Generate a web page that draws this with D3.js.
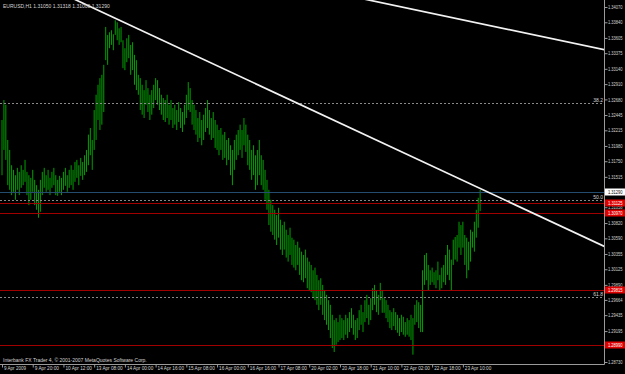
<!DOCTYPE html>
<html>
<head>
<meta charset="utf-8">
<script src="https://cdn.jsdelivr.net/npm/d3@7"></script>
<style>
body{margin:0;background:#000;}
svg{display:block;}
text{font-family:"Liberation Sans",Arial,sans-serif;fill:#d4d4d4;}
</style>
</head>
<body>
<svg width="625" height="374"></svg>
<script>

// EURUSD H1 bars, high and low of each hour
var highs = [1.3237,1.3267,1.3260,1.3207,1.3192,1.3169,1.3162,1.3154,1.3165,1.3159,
  1.3169,1.3162,1.3177,1.3159,1.3154,1.3150,1.3162,1.3147,1.3139,1.3132,
  1.3147,1.3159,1.3165,1.3154,1.3162,1.3150,1.3159,1.3165,1.3154,1.3147,
  1.3153,1.3150,1.3159,1.3165,1.3154,1.3162,1.3169,1.3162,1.3174,1.3177,
  1.3169,1.3180,1.3174,1.3184,1.3192,1.3215,1.3225,1.3207,1.3252,1.3275,
  1.3290,1.3300,1.3305,1.3320,1.3377,1.3365,1.3369,1.3372,1.3366,1.3387,
  1.3384,1.3375,1.3377,1.3357,1.3345,1.3360,1.3365,1.3350,1.3354,1.3335,
  1.3327,1.3305,1.3300,1.3290,1.3282,1.3297,1.3285,1.3275,1.3282,1.3290,
  1.3300,1.3297,1.3285,1.3275,1.3270,1.3267,1.3275,1.3260,1.3267,1.3255,
  1.3260,1.3252,1.3264,1.3255,1.3249,1.3260,1.3275,1.3294,1.3285,1.3267,
  1.3260,1.3252,1.3240,1.3249,1.3237,1.3245,1.3255,1.3267,1.3252,1.3240,
  1.3249,1.3237,1.3230,1.3222,1.3225,1.3215,1.3219,1.3207,1.3210,1.3199,
  1.3192,1.3207,1.3215,1.3222,1.3230,1.3222,1.3240,1.3230,1.3215,1.3207,
  1.3192,1.3199,1.3184,1.3192,1.3207,1.3184,1.3177,1.3162,1.3147,1.3132,
  1.3117,1.3109,1.3102,1.3094,1.3105,1.3087,1.3079,1.3084,1.3072,1.3064,
  1.3075,1.3060,1.3057,1.3049,1.3054,1.3045,1.3039,1.3034,1.3042,1.3030,
  1.3024,1.3019,1.3011,1.3015,1.3004,1.2996,1.2999,1.2989,1.2981,1.2974,
  1.2966,1.2959,1.2944,1.2936,1.2939,1.2933,1.2944,1.2939,1.2936,1.2944,
  1.2939,1.2948,1.2954,1.2944,1.2936,1.2939,1.2951,1.2959,1.2948,1.2966,
  1.2974,1.2959,1.2969,1.2984,1.2989,1.2981,1.2974,1.2992,1.2981,1.2969,
  1.2966,1.2959,1.2951,1.2948,1.2954,1.2948,1.2944,1.2939,1.2944,1.2941,
  1.2933,1.2939,1.2936,1.2944,1.2939,1.2959,1.2966,1.2963,1.2959,1.3011,
  1.3034,1.3037,1.3019,1.3011,1.3015,1.3008,1.3011,1.3024,1.3004,1.3015,
  1.3019,1.3034,1.3049,1.3042,1.3027,1.3057,1.3061,1.3064,1.3084,1.3079,
  1.3084,1.3064,1.3060,1.3054,1.3072,1.3069,1.3084,1.3102,1.3120,1.31318];

var lows = [1.3154,1.3192,1.3177,1.3139,1.3132,1.3124,1.3129,1.3117,1.3132,1.3124,
  1.3135,1.3139,1.3144,1.3124,1.3109,1.3117,1.3129,1.3109,1.3102,1.3090,
  1.3099,1.3124,1.3135,1.3129,1.3132,1.3124,1.3135,1.3139,1.3124,1.3123,
  1.3129,1.3124,1.3132,1.3138,1.3129,1.3135,1.3139,1.3132,1.3144,1.3150,
  1.3139,1.3153,1.3147,1.3154,1.3159,1.3169,1.3184,1.3162,1.3192,1.3207,
  1.3237,1.3222,1.3230,1.3249,1.3327,1.3320,1.3345,1.3350,1.3342,1.3365,
  1.3357,1.3350,1.3354,1.3315,1.3312,1.3324,1.3330,1.3305,1.3312,1.3290,
  1.3282,1.3275,1.3252,1.3245,1.3240,1.3260,1.3249,1.3237,1.3245,1.3255,
  1.3267,1.3260,1.3252,1.3245,1.3237,1.3234,1.3240,1.3230,1.3237,1.3225,
  1.3230,1.3222,1.3234,1.3225,1.3219,1.3230,1.3240,1.3252,1.3249,1.3230,
  1.3222,1.3215,1.3204,1.3210,1.3199,1.3207,1.3219,1.3225,1.3215,1.3207,
  1.3210,1.3195,1.3192,1.3184,1.3192,1.3177,1.3180,1.3169,1.3177,1.3154,
  1.3139,1.3162,1.3177,1.3184,1.3192,1.3180,1.3199,1.3189,1.3169,1.3162,
  1.3147,1.3154,1.3132,1.3139,1.3154,1.3139,1.3132,1.3117,1.3102,1.3079,
  1.3069,1.3064,1.3057,1.3049,1.3060,1.3042,1.3034,1.3042,1.3030,1.3024,
  1.3034,1.3019,1.3015,1.3011,1.3019,1.3004,1.2996,1.2993,1.2999,1.2984,
  1.2981,1.2978,1.2969,1.2966,1.2959,1.2951,1.2959,1.2944,1.2936,1.2929,
  1.2921,1.2909,1.2894,1.2888,1.2899,1.2903,1.2906,1.2909,1.2906,1.2914,
  1.2909,1.2918,1.2924,1.2914,1.2906,1.2909,1.2921,1.2929,1.2918,1.2933,
  1.2939,1.2929,1.2936,1.2951,1.2959,1.2948,1.2944,1.2966,1.2947,1.2947,
  1.2939,1.2933,1.2924,1.2921,1.2927,1.2921,1.2917,1.2912,1.2918,1.2914,
  1.2911,1.2914,1.2911,1.2906,1.2884,1.2929,1.2933,1.2924,1.2918,1.2918,
  1.2989,1.2996,1.2981,1.2989,1.2993,1.2989,1.2984,1.2996,1.2981,1.2984,
  1.2993,1.2989,1.3004,1.2996,1.2981,1.3019,1.3027,1.3024,1.3045,1.3034,
  1.3045,1.3019,1.2999,1.3011,1.3024,1.3045,1.3039,1.3060,1.3075,1.31000];

// time axis
var timeTickBars = [0,16,32,48,64,80,96,112,128,144,160,176,192,208,224,240];
var timeLabels = ["9 Apr 2009","9 Apr 20:00","10 Apr 12:00","13 Apr 08:00","14 Apr 00:00",
  "14 Apr 16:00","15 Apr 08:00","16 Apr 00:00","16 Apr 16:00","17 Apr 08:00","20 Apr 02:00",
  "20 Apr 18:00","21 Apr 10:00","22 Apr 02:00","22 Apr 18:00","23 Apr 10:00"];

// price axis (the two under the line labels are left out)
var priceTicks = [1.34070,1.33840,1.33605,1.33375,1.33140,1.32910,1.32680,1.32445,
  1.32215,1.31980,1.31750,1.31515,1.31058,1.30820,1.30590,1.30355,1.30125,
  1.29890,1.29664,1.29435,1.29195,1.28730];

// objects on the chart
var redLevels = [1.31125,1.30970,1.29815,1.28990];
var bidPrice = 1.31290;
var fiboNames = ["38.2","50.0","61.8"];
var fiboPrices = [1.32626,1.31163,1.29708];
var trendBars = [[59,249],[200,300]];
var trendPrices = [[1.3390,1.3134],[1.3412,1.3351]];

var header = "EURUSD,H1  1.31050 1.31318 1.31000 1.31290";

var plot = {left:0, right:604, top:0, bottom:364};

var xScale = d3.scaleLinear()
  .domain([0,313.5])
  .range([2,604]);

var yScale = d3.scaleLinear()
  .domain([1.28730,1.34070])
  .range([362,7]);

var svg = d3.select("svg");

svg.append("rect")
  .attr("width",625)
  .attr("height",374)
  .attr("fill","#000");

svg.append("clipPath")
  .attr("id","clip")
  .append("rect")
  .attr("x",plot.left)
  .attr("y",plot.top)
  .attr("width",plot.right-plot.left)
  .attr("height",plot.bottom-plot.top);

var chart = svg.append("g").attr("clip-path","url(#clip)");

// price bars
chart.selectAll("line.bar")
  .data(highs)
  .enter()
  .append("line")
  .attr("class","bar")
  .attr("x1",function(d,i){return xScale(i);})
  .attr("x2",function(d,i){return xScale(i);})
  .attr("y1",function(d){return yScale(d);})
  .attr("y2",function(d,i){return yScale(lows[i]);})
  .attr("stroke","#00a000")
  .attr("stroke-width",1);

// fibo levels
chart.selectAll("line.fibo")
  .data(fiboPrices)
  .enter()
  .append("line")
  .attr("class","fibo")
  .attr("x1",plot.left)
  .attr("x2",plot.right)
  .attr("y1",function(d){return Math.round(yScale(d))+0.5;})
  .attr("y2",function(d){return Math.round(yScale(d))+0.5;})
  .attr("stroke","#8a8a8a")
  .attr("stroke-dasharray","2,2");

svg.selectAll("text.fibo")
  .data(fiboPrices)
  .enter()
  .append("text")
  .attr("class","fibo")
  .attr("x",plot.right-1)
  .attr("y",function(d){return Math.round(yScale(d))-1;})
  .attr("text-anchor","end")
  .style("font-size","5px")
  .text(function(d,i){return fiboNames[i];});

// bid line
chart.append("line")
  .attr("x1",plot.left)
  .attr("x2",plot.right)
  .attr("y1",Math.round(yScale(bidPrice))+0.5)
  .attr("y2",Math.round(yScale(bidPrice))+0.5)
  .attr("stroke","#234c6e");

// horizontal lines
chart.selectAll("line.red")
  .data(redLevels)
  .enter()
  .append("line")
  .attr("class","red")
  .attr("x1",plot.left)
  .attr("x2",plot.right)
  .attr("y1",function(d){return Math.round(yScale(d))+0.5;})
  .attr("y2",function(d){return Math.round(yScale(d))+0.5;})
  .attr("stroke","#a00000");

// trend lines, drawn as rays over the whole chart
trendBars.forEach(function(b,k)
{
  var p = trendPrices[k];
  var slope = (p[1]-p[0])/(b[1]-b[0]);
  var x0 = -60, x1 = 340;
  chart.append("line")
    .attr("x1",xScale(x0))
    .attr("y1",yScale(p[0]+slope*(x0-b[0])))
    .attr("x2",xScale(x1))
    .attr("y2",yScale(p[0]+slope*(x1-b[0])))
    .attr("stroke","#f2f2f2")
    .attr("stroke-width",1.7);
});

// axes
var yAxis = d3.axisRight(yScale)
  .tickValues(priceTicks)
  .tickFormat(d3.format(".5f"))
  .tickSize(3)
  .tickSizeOuter(0);

var gy = svg.append("g")
  .attr("transform","translate("+(plot.right+0.5)+",0)")
  .call(yAxis);

gy.select(".domain").attr("d","M0,0V"+(plot.bottom+0.5)).attr("stroke","#9a9a9a");
gy.selectAll(".tick line").attr("stroke","#9a9a9a");
gy.selectAll(".tick text")
  .attr("x",3.5)
  .style("font-size","5px")
  .attr("textLength",14.5)
  .attr("lengthAdjust","spacingAndGlyphs")
  .attr("fill","#d4d4d4");

var xAxis = d3.axisBottom(xScale)
  .tickValues(timeTickBars)
  .tickFormat(function(d,i){return timeLabels[i];})
  .tickSize(3)
  .tickSizeOuter(0);

var gx = svg.append("g")
  .attr("transform","translate(0,"+(plot.bottom+0.5)+")")
  .call(xAxis);

gx.select(".domain").attr("d","M0,0H"+(plot.right+0.5)).attr("stroke","#9a9a9a");
gx.selectAll(".tick line").attr("stroke","#9a9a9a");
gx.selectAll(".tick text")
  .attr("text-anchor","start")
  .attr("x",1.5)
  .attr("y",2)
  .style("font-size","5.2px")
  .attr("textLength",function(d,i){return timeLabels[i].length*2.2;})
  .attr("lengthAdjust","spacingAndGlyphs")
  .attr("fill","#d4d4d4");

// price labels for lines
var boxes = [{p:bidPrice, fill:"#ffffff", color:"#000"}];
redLevels.forEach(function(d){boxes.push({p:d, fill:"#e00000", color:"#fff"});});

var bx = svg.selectAll("g.box")
  .data(boxes)
  .enter()
  .append("g")
  .attr("class","box")
  .attr("transform",function(d){return "translate("+(plot.right+1)+","+Math.round(yScale(d.p))+")";});

bx.append("rect")
  .attr("x",0)
  .attr("y",-3.5)
  .attr("width",20)
  .attr("height",7)
  .attr("fill",function(d){return d.fill;});

bx.append("text")
  .attr("x",3)
  .attr("y",1.8)
  .style("font-size","5px")
  .attr("textLength",14.5)
  .attr("lengthAdjust","spacingAndGlyphs")
  .style("fill",function(d){return d.color;})
  .text(function(d){return d3.format(".5f")(d.p);});

// header and footer texts
svg.append("text")
  .attr("x",3)
  .attr("y",7.5)
  .style("font-size","5px")
  .text(header);

svg.append("text")
  .attr("x",3)
  .attr("y",361.5)
  .style("font-size","5px")
  .text("Interbank FX Trader 4, \u00a9 2001-2007 MetaQuotes Software Corp.");

</script>
</body>
</html>
